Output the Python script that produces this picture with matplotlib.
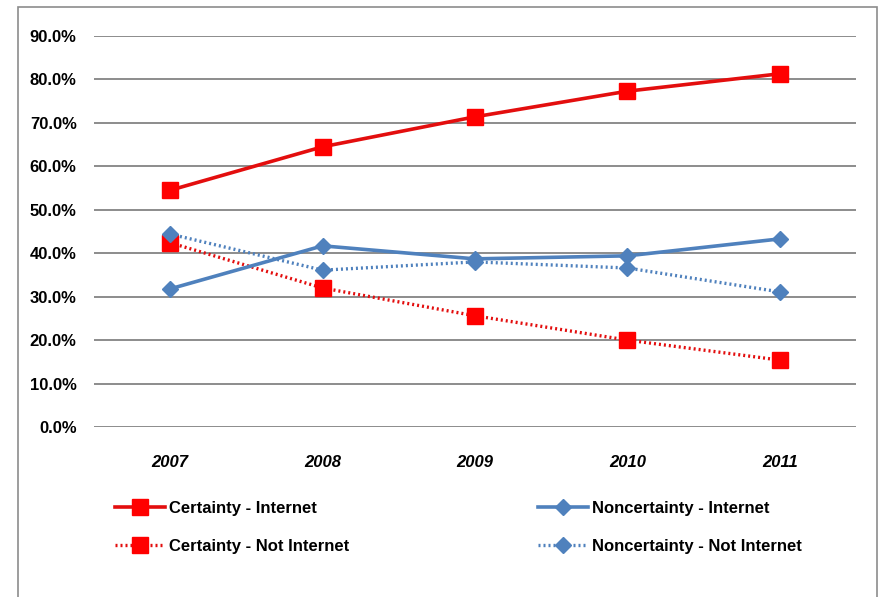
import matplotlib; matplotlib.use('Agg')
import matplotlib.pyplot as plt
from matplotlib.patches import Rectangle
from matplotlib.ticker import PercentFormatter

years = ["2007", "2008", "2009", "2010", "2011"]
cert_internet = [54.5, 64.5, 71.4, 77.3, 81.3]
noncert_internet = [31.8, 41.7, 38.7, 39.4, 43.3]
cert_not_internet = [42.4, 32.0, 25.6, 20.0, 15.4]
noncert_not_internet = [44.4, 36.1, 38.0, 36.6, 31.1]

RED = "#FF0000"
RED_LINE = "#E30E0E"
BLUE = "#4F81BD"
FONT = ['Liberation Sans', 'DejaVu Sans']
plt.rcParams['font.family'] = FONT

fig = plt.figure(figsize=(8.81, 5.97), dpi=100)
ax = fig.add_axes([94 / 881, 1 - 427 / 597, (856 - 94) / 881, (427 - 36) / 597])

# outer frame of the chart area
fig.patches.append(Rectangle((18 / 881, -0.01), (877 - 18) / 881, 1 - 7 / 597 + 0.01,
                             transform=fig.transFigure, fill=False,
                             edgecolor='#8C8C8C', linewidth=1.2))

x = range(len(years))
ax.plot(x, cert_internet, color=RED_LINE, lw=2.6, marker='s', ms=11,
        mfc=RED, mec=RED, label='Certainty - Internet', zorder=5)
ax.plot(x, cert_not_internet, color=RED_LINE, lw=2.4, ls=(0, (0.6, 0.9)), marker='s', ms=11,
        mfc=RED, mec=RED, label='Certainty - Not Internet', zorder=4)
ax.plot(x, noncert_internet, color=BLUE, lw=2.6, marker='D', ms=8.5,
        mfc=BLUE, mec=BLUE, label='Noncertainty - Internet', zorder=5)
ax.plot(x, noncert_not_internet, color=BLUE, lw=2.4, ls=(0, (0.6, 0.9)), marker='D', ms=8.5,
        mfc=BLUE, mec=BLUE, label='Noncertainty - Not Internet', zorder=4)

ax.set_xlim(-0.5, len(years) - 0.5)
ax.set_ylim(0, 90)
ax.set_yticks(range(0, 91, 10))
ax.yaxis.set_major_formatter(PercentFormatter(decimals=1))
ax.set_xticks(list(x))
ax.set_xticklabels(years, fontstyle='italic')
for lab in ax.get_xticklabels() + ax.get_yticklabels():
    lab.set_fontweight('bold')
    lab.set_fontsize(12)
ax.tick_params(axis='both', length=0)
ax.tick_params(axis='y', pad=12.5)
ax.tick_params(axis='x', pad=20)
ax.grid(axis='y', color='#8C8C8C', lw=1.4)
ax.set_axisbelow(True)
for s in ax.spines.values():
    s.set_visible(False)

h, l = ax.get_legend_handles_labels()
leg = fig.legend(h, l, ncol=2,
                 loc='upper left', bbox_to_anchor=(100 / 881, 1 - 486 / 597),
                 frameon=False, handlelength=3.0, handletextpad=0.25,
                 columnspacing=11.3, labelspacing=1.35,
                 prop={'family': FONT, 'weight': 'bold', 'size': 12})

fig.savefig('out.png', dpi=100)
